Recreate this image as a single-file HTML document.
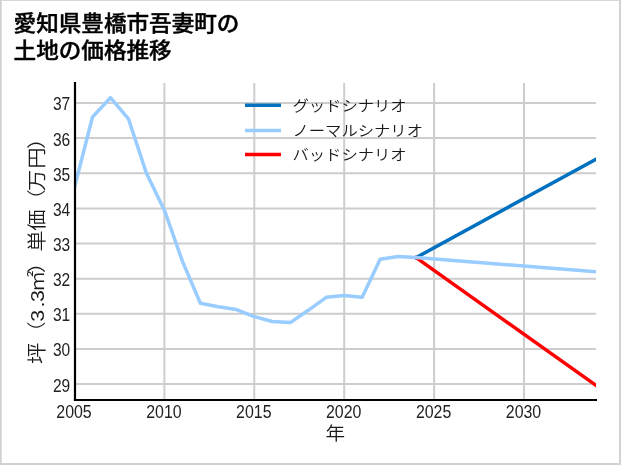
<!DOCTYPE html>
<html lang="ja">
<head>
<meta charset="utf-8">
<title>愛知県豊橋市吾妻町の土地の価格推移</title>
<style>
html,body{margin:0;padding:0;background:#fff;}
body{width:621px;height:465px;overflow:hidden;position:relative;}
svg{display:block;position:absolute;left:0;top:0;will-change:transform;}
text{font-family:"Liberation Sans", "Noto Sans CJK JP", sans-serif;fill:#1a1a1a;}
.title{font-weight:500;font-size:21.3px;fill:#000;stroke:#000;stroke-width:0.4px;stroke-linejoin:round;}
.tick{font-size:18.3px;font-weight:400;fill:#222;}
.lab{font-size:18.5px;font-weight:350;}
.ylab{font-size:19.8px;font-weight:350;}
.leg{font-size:14.8px;font-weight:350;}
</style>
</head>
<body>
<svg width="621" height="465" viewBox="0 0 621 465">
<rect x="0" y="0" width="621" height="465" fill="#ffffff"/>

<g stroke="#cdcdcd" stroke-width="2" fill="none">
<line x1="164.40" y1="83.00" x2="164.40" y2="400.00"/>
<line x1="254.30" y1="83.00" x2="254.30" y2="400.00"/>
<line x1="344.20" y1="83.00" x2="344.20" y2="400.00"/>
<line x1="434.10" y1="83.00" x2="434.10" y2="400.00"/>
<line x1="524.00" y1="83.00" x2="524.00" y2="400.00"/>
<line x1="75.00" y1="384.10" x2="596.00" y2="384.10"/>
<line x1="75.00" y1="348.96" x2="596.00" y2="348.96"/>
<line x1="75.00" y1="313.82" x2="596.00" y2="313.82"/>
<line x1="75.00" y1="278.68" x2="596.00" y2="278.68"/>
<line x1="75.00" y1="243.54" x2="596.00" y2="243.54"/>
<line x1="75.00" y1="208.40" x2="596.00" y2="208.40"/>
<line x1="75.00" y1="173.26" x2="596.00" y2="173.26"/>
<line x1="75.00" y1="138.12" x2="596.00" y2="138.12"/>
<line x1="75.00" y1="102.98" x2="596.00" y2="102.98"/>
</g>
<clipPath id="plot"><rect x="75.00" y="83.00" width="521.00" height="317.00"/></clipPath>
<g clip-path="url(#plot)" fill="none" stroke-width="3.5" stroke-linejoin="round" stroke-linecap="square">
<polyline stroke="#0070c0" points="416.12,257.60 595.92,159.20"/>
<polyline stroke="#ff0000" points="416.12,257.60 595.92,385.33"/>
<polyline stroke="#99ccff" points="74.50,187.32 92.48,117.04 110.46,97.71 128.44,118.79 146.42,173.26 164.40,210.16 182.38,261.11 200.36,303.28 218.34,306.79 236.32,309.60 254.30,316.63 272.28,321.55 290.26,322.61 308.24,310.31 326.22,297.30 344.20,295.55 362.18,297.30 380.16,259.35 398.14,256.54 416.12,257.60 595.92,271.65"/>
</g>
<g stroke="#000" stroke-width="2.2" fill="none">
<line x1="75.00" y1="82.00" x2="75.00" y2="401.10"/>
<line x1="73.90" y1="400.00" x2="597.00" y2="400.00"/>
</g>
<text class="title" transform="translate(13.60,30.80) scale(1.061,1.000)">愛知県豊橋市吾妻町の</text>
<text class="title" transform="translate(13.60,58.20) scale(1.061,1.000)">土地の価格推移</text>
<text class="tick" text-anchor="middle" transform="translate(74.00,418.10) scale(0.870,1.000)">2005</text>
<text class="tick" text-anchor="middle" transform="translate(163.90,418.10) scale(0.870,1.000)">2010</text>
<text class="tick" text-anchor="middle" transform="translate(253.80,418.10) scale(0.870,1.000)">2015</text>
<text class="tick" text-anchor="middle" transform="translate(343.70,418.10) scale(0.870,1.000)">2020</text>
<text class="tick" text-anchor="middle" transform="translate(433.60,418.10) scale(0.870,1.000)">2025</text>
<text class="tick" text-anchor="middle" transform="translate(523.50,418.10) scale(0.870,1.000)">2030</text>
<text class="tick" text-anchor="end" transform="translate(70.20,391.60) scale(0.850,1.000)">29</text>
<text class="tick" text-anchor="end" transform="translate(70.20,356.46) scale(0.850,1.000)">30</text>
<text class="tick" text-anchor="end" transform="translate(70.20,321.32) scale(0.850,1.000)">31</text>
<text class="tick" text-anchor="end" transform="translate(70.20,286.18) scale(0.850,1.000)">32</text>
<text class="tick" text-anchor="end" transform="translate(70.20,251.04) scale(0.850,1.000)">33</text>
<text class="tick" text-anchor="end" transform="translate(70.20,215.90) scale(0.850,1.000)">34</text>
<text class="tick" text-anchor="end" transform="translate(70.20,180.76) scale(0.850,1.000)">35</text>
<text class="tick" text-anchor="end" transform="translate(70.20,145.62) scale(0.850,1.000)">36</text>
<text class="tick" text-anchor="end" transform="translate(70.20,110.48) scale(0.850,1.000)">37</text>
<text class="lab" text-anchor="middle" transform="translate(335.40,440.30) scale(1.060,1.000)">年</text>
<text class="ylab" transform="translate(43.70,364.00) rotate(-90) scale(1.080,0.950)" dx="0.00 0.00 -0.46 2.13 -0.42 -1.71 -2.31 0.05 -0.46 -0.97 -1.76 0.93 -1.48">坪（3.3㎡）単価（万円）</text>
<line x1="245" y1="105.30" x2="281" y2="105.30" stroke="#0070c0" stroke-width="3.5"/>
<text class="leg" transform="translate(292.40,110.90) scale(1.104,1.000)">グッドシナリオ</text>
<line x1="245" y1="130.40" x2="281" y2="130.40" stroke="#99ccff" stroke-width="3.5"/>
<text class="leg" transform="translate(292.40,135.60) scale(1.104,1.000)">ノーマルシナリオ</text>
<line x1="245" y1="154.40" x2="281" y2="154.40" stroke="#ff0000" stroke-width="3.5"/>
<text class="leg" transform="translate(292.40,160.10) scale(1.104,1.000)">バッドシナリオ</text>
<g fill="#d2d2d2"><rect x="0" y="0" width="1.75" height="465"/><rect x="0" y="0" width="621" height="0.85"/><rect x="619" y="0" width="2" height="465"/><rect x="0" y="463" width="621" height="2"/></g>
</svg>
</body>
</html>
